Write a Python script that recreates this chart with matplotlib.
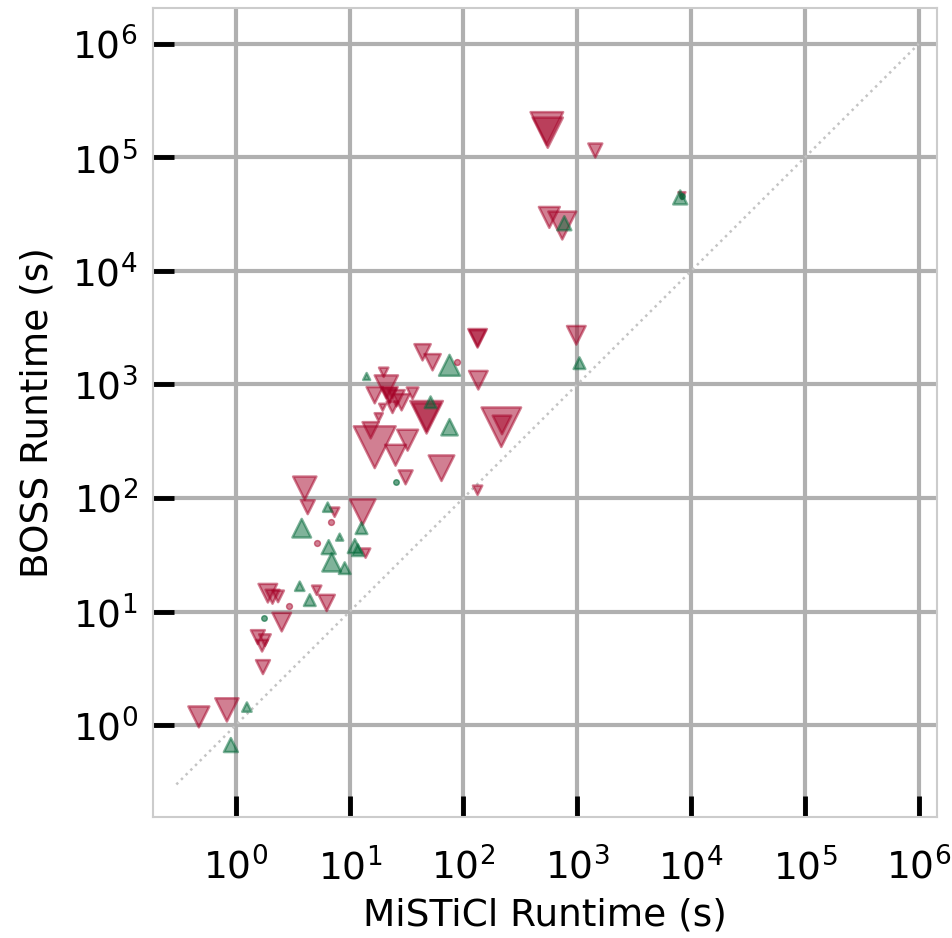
import numpy as np
import matplotlib.pyplot as plt

# BOSS slower (red, down triangles): MiSTiCl runtime, BOSS runtime, marker weight
red_x = [540, 550, 1439, 568, 738, 980, 133, 133, 135, 43.7, 53.5, 215, 218,
         16.6, 22.4, 22.4, 25.8, 28.6, 35.7, 23.8, 19.5, 18, 19.9, 21, 47.4, 47.4,
         15.3, 16.6, 32.3, 25.3, 64.1, 31, 133, 4.03, 4.28, 7.38, 13, 13.8,
         1.91, 2.1, 2.35, 5.13, 6.28, 2.53, 1.56, 1.8, 1.7, 1.73, 0.473, 0.834, 8300]
red_y = [180000, 165000, 115000, 29600, 25100, 2710, 2550, 2550, 1090, 1920, 1570, 420, 440,
         804, 804, 804, 756, 697, 837, 630, 630, 514, 1280, 950, 514, 514,
         395, 280, 323, 238, 183, 152, 117, 122, 83, 75, 75, 32.7,
         14.5, 13.5, 13.6, 15.4, 11.9, 8.07, 5.95, 5.6, 5.0, 3.24, 1.18, 1.36, 46000]
red_w = [28, 26, 12, 18, 24, 16, 16, 14, 16, 14, 14, 34, 16,
         14, 14, 12, 14, 14, 10, 10, 6, 7, 8, 20, 28, 24,
         14, 36, 18, 18, 22, 12, 8, 20, 12, 8, 22, 8,
         16, 12, 10, 8, 14, 16, 12, 10, 10, 12, 18, 20, 6]

# MiSTiCl slower (green, up triangles)
green_x = [769, 8020, 1045, 75.4, 75.4, 51.4, 14.1, 6.41, 3.79, 12.7, 8.17,
           6.54, 11.1, 11.8, 6.95, 9.04, 3.64, 4.46, 1.25, 0.904]
green_y = [26300, 44400, 1540, 1475, 420, 697, 1175, 83, 54.2, 54.2, 45.2,
           36.9, 37.7, 34.7, 27.2, 24.1, 16.7, 12.6, 1.44, 0.667]
green_w = [12, 12, 10, 18, 14, 10, 6, 8, 16, 10, 6,
           12, 12, 10, 16, 10, 8, 10, 8, 12]

# small circles
rdot_x = [87, 2.92, 5.13, 6.8]
rdot_y = [1570, 11.2, 40, 61]
gdot_x = [25.3, 1.76, 8300]
gdot_y = [138, 8.75, 46000]

red = '#a50026'
green = '#006837'

fig = plt.figure(figsize=(9.52, 9.38), dpi=100)
ax = fig.add_axes([0.1607, 0.129, 0.8233, 0.8625])

ax.plot([0.3, 1e6], [0.3, 1e6], ls=':', color='#c4c4c4', lw=1.8, zorder=1)

ax.scatter(red_x, red_y, s=0.7 * np.array(red_w) ** 2, marker='v', color=red,
           alpha=0.5, linewidths=1.8, zorder=3)
ax.scatter(green_x, green_y, s=0.7 * np.array(green_w) ** 2, marker='^', color=green,
           alpha=0.5, linewidths=1.8, zorder=3)
ax.scatter(rdot_x, rdot_y, s=18, marker='o', color=red, alpha=0.5, zorder=3)
ax.scatter(gdot_x, gdot_y, s=16, marker='o', color=green, alpha=0.6, zorder=3)

ax.set_xscale('log')
ax.set_yscale('log')
ax.set_xlim(0.187, 1.44e6)
ax.set_ylim(0.155, 2.07e6)
ax.set_xticks([10.0 ** k for k in range(0, 7)])
ax.set_yticks([10.0 ** k for k in range(0, 7)])
ax.minorticks_off()

ax.grid(True, color='#b0b0b0', lw=3, zorder=0)
ax.set_axisbelow(True)
for sp in ax.spines.values():
    sp.set_color('#cccccc')
    sp.set_linewidth(1.5)

ax.tick_params(direction='in', length=15, width=3.5, color='black', labelsize=27)
ax.tick_params(axis='x', pad=22)
ax.tick_params(axis='y', pad=11)

ax.set_xlabel('MiSTiCl Runtime (s)', fontsize=27, labelpad=7)
ax.set_ylabel('BOSS Runtime (s)', fontsize=27, labelpad=12)

fig.savefig('out.png', dpi=100)
